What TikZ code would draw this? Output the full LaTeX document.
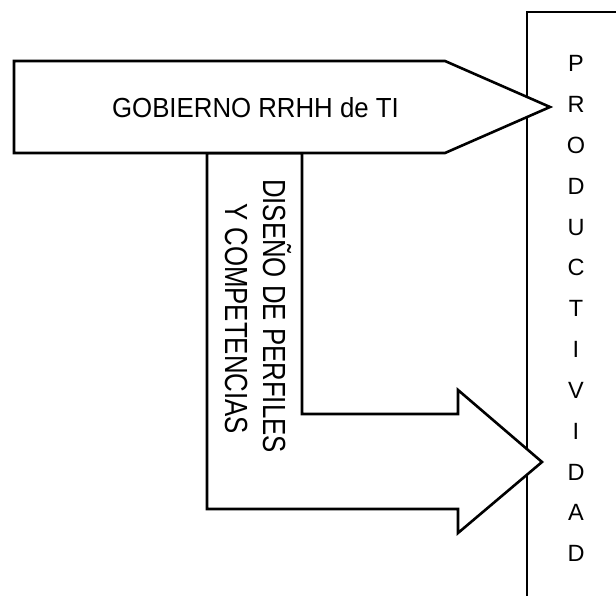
\documentclass[tikz,border=0pt]{standalone}
\usepackage{fontspec}
\setmainfont{Liberation Sans}
\begin{document}
\begin{tikzpicture}[x=1pt,y=-1pt,
  outline/.style={draw=black,line width=2.6pt,line join=miter,fill=white},
  label/.style={inner sep=0pt,font=\fontsize{25.8}{30}\selectfont},
  letter/.style={inner sep=0pt,anchor=base,font=\fontsize{23.5}{28}\selectfont}]
  \useasboundingbox (0,0) rectangle (616,596);
  \clip (0,0) rectangle (616,596);

  % frame of the output column (runs off the right and bottom edges)
  \coordinate (frameBL) at (527,620);
  \coordinate (frameTL) at (527,12);
  \coordinate (frameTR) at (640,12);
  \draw[line width=2.6pt] (frameBL) -- (frameTL) -- (frameTR);

  % L-shaped arrow coming down from the top block
  \draw[outline] (207,153) -- (207,509) -- (458,509) -- (458,533) -- (542,462)
                 -- (458,390) -- (458,414) -- (302,414) -- (302,153) -- cycle;

  % top block arrow
  \draw[outline] (14,61) -- (445,61) -- (550,107) -- (445,153) -- (14,153) -- cycle;

  % labels
  \node[label,anchor=base] (gob) at (255.5,118)
    {\scalebox{1}[1.07]{GOBIERNO RRHH de TI}};
  \node[label,anchor=base,rotate=-90] (dis) at (263,316)
    {\scalebox{1}[1.24]{DISEÑO DE PERFILES}};
  \node[label,anchor=base,rotate=-90] (comp) at (225,318.5)
    {\scalebox{1}[1.24]{Y COMPETENCIAS}};

  % vertical word in the output column
  \foreach \c [count=\i] in {P,R,O,D,U,C,T,I,V,I,D,A,D}
    \node[letter] (prod\i) at (576,{72+(\i-1)*40.8}) {\c};
\end{tikzpicture}
\end{document}
